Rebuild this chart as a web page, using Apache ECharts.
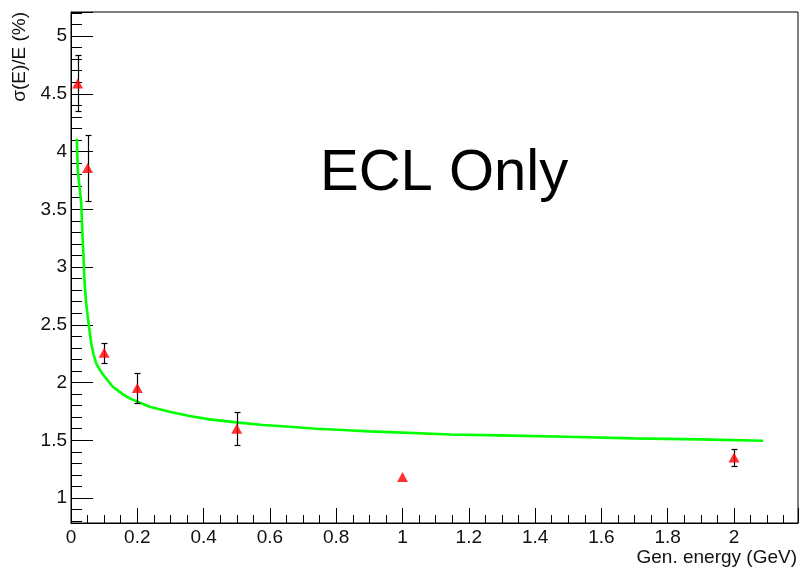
<!DOCTYPE html>
<html>
<head>
<meta charset="utf-8">
<script src="https://cdn.jsdelivr.net/npm/echarts@6/dist/echarts.min.js"></script>
<style>
  html, body { margin: 0; padding: 0; background: #fff; }
  #chart { width: 808px; height: 578px; }
</style>
</head>
<body>
<div id="chart"></div>
<script>
// Measured energy resolution (generated photon energy in GeV, sigma(E)/E in %)
const energies      = [0.02, 0.05, 0.1, 0.2, 0.5, 1.0, 2.0];
const resolution    = [4.59, 3.857, 2.258, 1.952, 1.60, 1.182, 1.351];
const resolutionErr = [0.242, 0.286, 0.087, 0.132, 0.145, 0.015, 0.071];

// Fitted resolution curve, sampled along the energy axis
const fitEnergy = [0.0175, 0.0205, 0.031, 0.034, 0.0377, 0.041, 0.0458, 0.053, 0.061, 0.068,
                   0.076, 0.086, 0.096, 0.126, 0.156, 0.177, 0.237, 0.297, 0.358, 0.418,
                   0.499, 0.579, 0.660, 0.740, 0.820, 0.900, 0.982, 1.143, 1.293, 1.495,
                   1.696, 1.897, 2.088];
const fitValue  = [4.11, 3.836, 3.548, 3.316, 3.09, 2.86, 2.686, 2.513, 2.34, 2.245,
                   2.166, 2.115, 2.072, 1.964, 1.9, 1.863, 1.79, 1.747, 1.71, 1.681,
                   1.655, 1.632, 1.617, 1.60, 1.589, 1.577, 1.569, 1.55, 1.543, 1.531,
                   1.517, 1.508, 1.496];

// Axis tick labels
const xTickLabels = ['0', '0.2', '0.4', '0.6', '0.8', '1', '1.2', '1.4', '1.6', '1.8', '2'];
const yTickLabels = ['1', '1.5', '2', '2.5', '3', '3.5', '4', '4.5', '5'];

const FONT = 'Liberation Sans, Arial, Helvetica, sans-serif';

function pickLabel(labels) {
  return function (v) {
    for (const s of labels) {
      if (Math.abs(parseFloat(s) - v) < 1e-6) return s;
    }
    return '';
  };
}

const chart = echarts.init(document.getElementById('chart'), null, { renderer: 'canvas' });

chart.setOption({
  backgroundColor: '#ffffff',
  animation: false,
  title: {
    text: 'ECL Only',
    left: 320,
    top: 145,
    padding: 0,
    textStyle: { fontFamily: FONT, fontSize: 58, fontWeight: 'normal', color: '#000' }
  },
  grid: {
    left: 71, right: 10, top: 12, bottom: 55,
    show: true, borderColor: '#000', borderWidth: 1, backgroundColor: 'transparent'
  },
  xAxis: {
    type: 'value',
    min: 0,
    max: 2.193,
    interval: 0.2,
    name: 'Gen. energy (GeV)',
    nameLocation: 'end',
    nameGap: 0,
    nameTextStyle: {
      fontFamily: FONT, fontSize: 19, color: '#111',
      align: 'right', verticalAlign: 'top', padding: [25, 1, 0, 0]
    },
    axisLine: { show: true, onZero: false, lineStyle: { color: '#000', width: 1 } },
    axisTick: { show: true, inside: true, length: 15, lineStyle: { color: '#000', width: 1 } },
    minorTick: { show: true, splitNumber: 4, length: 8, lineStyle: { color: '#000', width: 1 } },
    axisLabel: {
      fontFamily: FONT, fontSize: 19, color: '#111', margin: 5,
      formatter: pickLabel(xTickLabels)
    },
    splitLine: { show: false },
    minorSplitLine: { show: false }
  },
  yAxis: {
    type: 'value',
    min: 0.784,
    max: 5.208,
    splitNumber: 9,
    name: 'σ(E)/E (%)',
    nameLocation: 'end',
    nameRotate: 90,
    nameGap: 0,
    nameTextStyle: {
      fontFamily: FONT, fontSize: 19, color: '#111',
      align: 'right', verticalAlign: 'bottom', padding: [0, 0, 42, 0]
    },
    axisLine: { show: true, onZero: false, lineStyle: { color: '#000', width: 1 } },
    axisTick: { show: true, inside: true, length: 22, lineStyle: { color: '#000', width: 1 } },
    minorTick: { show: true, splitNumber: 5, length: 11, lineStyle: { color: '#000', width: 1 } },
    axisLabel: {
      fontFamily: FONT, fontSize: 19, color: '#111', margin: 4,
      formatter: pickLabel(yTickLabels)
    },
    splitLine: { show: false },
    minorSplitLine: { show: false }
  },
  series: [
    {
      name: 'fit',
      type: 'line',
      data: fitEnergy.map((e, i) => [e, fitValue[i]]),
      showSymbol: false,
      symbol: 'none',
      smooth: false,
      lineStyle: { color: '#00ff00', width: 2.6 },
      z: 2
    },
    {
      name: 'errors',
      type: 'custom',
      data: energies.map((e, i) => [e, resolution[i], resolutionErr[i]]),
      renderItem: function (params, api) {
        const x = api.value(0), y = api.value(1), err = api.value(2);
        const top = api.coord([x, y + err]);
        const bot = api.coord([x, y - err]);
        const mid = api.coord([x, y]);
        if (mid[1] - top[1] < 5) return null;
        const px = Math.round(top[0]) + 0.5;
        const ty = Math.round(top[1]) + 0.5;
        const by = Math.round(bot[1]) + 0.5;
        const st = { stroke: '#000', lineWidth: 1.2 };
        return {
          type: 'group',
          children: [
            { type: 'line', shape: { x1: px, y1: ty, x2: px, y2: by }, style: st },
            { type: 'line', shape: { x1: px - 3, y1: ty, x2: px + 3, y2: ty }, style: st },
            { type: 'line', shape: { x1: px - 3, y1: by, x2: px + 3, y2: by }, style: st }
          ]
        };
      },
      z: 3
    },
    {
      name: 'data',
      type: 'scatter',
      data: energies.map((e, i) => [e, resolution[i]]),
      symbol: 'triangle',
      symbolSize: [11, 10],
      itemStyle: { color: '#ff0000' },
      z: 4
    }
  ]
});
</script>
</body>
</html>
